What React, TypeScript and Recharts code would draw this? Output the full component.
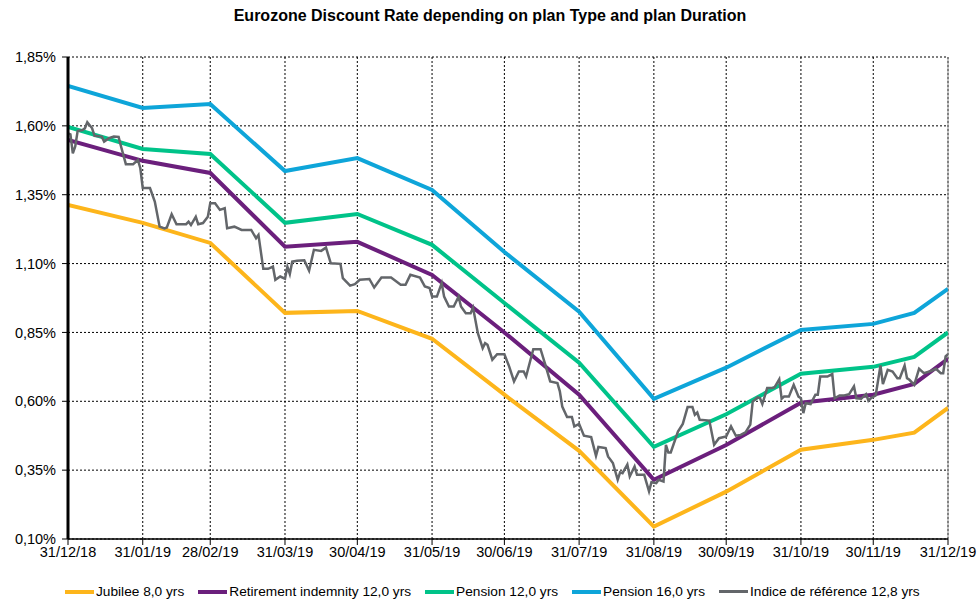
import { LineChart, Line, XAxis, YAxis, CartesianGrid, ReferenceLine } from "recharts"

// plan curves, month ends (plus one mid-December point)
const planDates = [
  "31/12/18", "31/01/19", "28/02/19", "31/03/19", "30/04/19", "31/05/19", "30/06/19",
  "31/07/19", "31/08/19", "30/09/19", "31/10/19", "30/11/19", "17/12/19", "31/12/19",
]
const jubilee = [1.313, 1.248, 1.175, 0.921, 0.928, 0.827, 0.624, 0.42, 0.145, 0.272, 0.424, 0.46, 0.486, 0.576]
const retirement = [1.549, 1.473, 1.429, 1.161, 1.179, 1.059, 0.85, 0.624, 0.315, 0.441, 0.595, 0.624, 0.663, 0.754]
const pension12 = [1.596, 1.516, 1.498, 1.248, 1.28, 1.168, 0.957, 0.74, 0.435, 0.553, 0.7, 0.725, 0.761, 0.85]
const pension16 = [1.745, 1.665, 1.679, 1.436, 1.483, 1.367, 1.142, 0.925, 0.609, 0.722, 0.859, 0.881, 0.921, 1.008]

// reference index
const indexDates = [
  "31/12/18", "01/01/19", "02/01/19", "03/01/19", "04/01/19", "06/01/19", "07/01/19", "08/01/19", "10/01/19", "11/01/19",
  "14/01/19", "15/01/19", "17/01/19", "19/01/19", "21/01/19", "22/01/19", "24/01/19", "27/01/19", "29/01/19", "30/01/19",
  "31/01/19", "03/02/19", "05/02/19", "07/02/19", "09/02/19", "10/02/19", "12/02/19", "14/02/19", "18/02/19", "19/02/19",
  "20/02/19", "22/02/19", "23/02/19", "25/02/19", "27/02/19", "28/02/19", "02/03/19", "04/03/19", "06/03/19", "07/03/19",
  "10/03/19", "13/03/19", "17/03/19", "19/03/19", "20/03/19", "22/03/19", "24/03/19", "26/03/19", "27/03/19", "29/03/19",
  "31/03/19", "01/04/19", "02/04/19", "03/04/19", "05/04/19", "08/04/19", "10/04/19", "12/04/19", "15/04/19", "17/04/19",
  "19/04/19", "23/04/19", "24/04/19", "27/04/19", "29/04/19", "01/05/19", "05/05/19", "07/05/19", "10/05/19", "14/05/19",
  "18/05/19", "20/05/19", "22/05/19", "26/05/19", "28/05/19", "30/05/19", "31/05/19", "02/06/19", "04/06/19", "05/06/19",
  "07/06/19", "09/06/19", "11/06/19", "12/06/19", "14/06/19", "16/06/19", "17/06/19", "19/06/19", "21/06/19", "22/06/19",
  "23/06/19", "25/06/19", "27/06/19", "30/06/19", "02/07/19", "04/07/19", "06/07/19", "08/07/19", "09/07/19", "12/07/19",
  "15/07/19", "17/07/19", "19/07/19", "22/07/19", "23/07/19", "24/07/19", "26/07/19", "28/07/19", "29/07/19", "31/07/19",
  "02/08/19", "05/08/19", "07/08/19", "08/08/19", "11/08/19", "12/08/19", "14/08/19", "16/08/19", "17/08/19", "18/08/19",
  "20/08/19", "21/08/19", "23/08/19", "24/08/19", "27/08/19", "28/08/19", "29/08/19", "30/08/19", "01/09/19", "02/09/19",
  "04/09/19", "05/09/19", "06/09/19", "07/09/19", "10/09/19", "12/09/19", "14/09/19", "16/09/19", "17/09/19", "18/09/19",
  "19/09/19", "23/09/19", "25/09/19", "27/09/19", "30/09/19", "02/10/19", "04/10/19", "06/10/19", "08/10/19", "10/10/19",
  "11/10/19", "13/10/19", "14/10/19", "15/10/19", "17/10/19", "19/10/19", "20/10/19", "22/10/19", "23/10/19", "24/10/19",
  "26/10/19", "28/10/19", "30/10/19", "31/10/19", "01/11/19", "02/11/19", "04/11/19", "06/11/19", "07/11/19", "08/11/19",
  "11/11/19", "13/11/19", "14/11/19", "16/11/19", "18/11/19", "20/11/19", "22/11/19", "23/11/19", "25/11/19", "27/11/19",
  "28/11/19", "29/11/19", "01/12/19", "03/12/19", "04/12/19", "06/12/19", "08/12/19", "10/12/19", "11/12/19", "13/12/19",
  "14/12/19", "15/12/19", "17/12/19", "19/12/19", "21/12/19", "24/12/19", "26/12/19", "28/12/19", "29/12/19", "30/12/19",
  "31/12/19",
]
const indexValues = [
  1.573, 1.569, 1.5, 1.525, 1.581, 1.585, 1.591, 1.613, 1.591, 1.564,
  1.561, 1.543, 1.555, 1.561, 1.56, 1.525, 1.461, 1.461, 1.476, 1.446,
  1.374, 1.374, 1.325, 1.234, 1.228, 1.231, 1.279, 1.243, 1.243, 1.252,
  1.24, 1.27, 1.243, 1.247, 1.27, 1.319, 1.319, 1.295, 1.301, 1.228,
  1.234, 1.222, 1.222, 1.192, 1.204, 1.081, 1.081, 1.089, 1.041, 1.053,
  1.045, 1.089, 1.062, 1.107, 1.11, 1.112, 1.074, 1.15, 1.146, 1.158,
  1.101, 1.099, 1.047, 1.02, 1.025, 1.041, 1.044, 1.013, 1.049, 1.049,
  1.023, 1.023, 1.059, 1.049, 1.017, 1.011, 0.98, 0.98, 1.029, 0.98,
  0.944, 0.944, 0.98, 0.944, 0.92, 0.92, 0.94, 0.847, 0.793, 0.811,
  0.805, 0.751, 0.771, 0.771, 0.726, 0.672, 0.708, 0.708, 0.69, 0.789,
  0.789, 0.732, 0.672, 0.666, 0.636, 0.581, 0.543, 0.543, 0.509, 0.518,
  0.475, 0.47, 0.402, 0.434, 0.43, 0.4, 0.376, 0.315, 0.342, 0.339,
  0.37, 0.327, 0.363, 0.333, 0.333, 0.303, 0.273, 0.306, 0.303, 0.315,
  0.309, 0.442, 0.414, 0.414, 0.49, 0.518, 0.579, 0.579, 0.551, 0.559,
  0.533, 0.53, 0.442, 0.466, 0.472, 0.509, 0.475, 0.478, 0.487, 0.515,
  0.599, 0.614, 0.612, 0.59, 0.648, 0.648, 0.65, 0.68, 0.609, 0.617,
  0.617, 0.66, 0.617, 0.611, 0.557, 0.593, 0.59, 0.624, 0.624, 0.69,
  0.69, 0.699, 0.611, 0.621, 0.621, 0.626, 0.654, 0.611, 0.609, 0.626,
  0.602, 0.611, 0.621, 0.73, 0.662, 0.714, 0.708, 0.684, 0.684, 0.73,
  0.684, 0.678, 0.66, 0.718, 0.702, 0.71, 0.718, 0.702, 0.702, 0.763,
  0.771,
]

const xTickLabels = [
  "31/12/18", "31/01/19", "28/02/19", "31/03/19", "30/04/19", "31/05/19", "30/06/19",
  "31/07/19", "31/08/19", "30/09/19", "31/10/19", "30/11/19", "31/12/19",
]
const yTicks = [0.1, 0.35, 0.6, 0.85, 1.1, 1.35, 1.6, 1.85]

const COLORS = {
  jubilee: "#FDB51B",
  retirement: "#6B1F7C",
  pension12: "#00C389",
  pension16: "#0EA5D9",
  index: "#63666A",
}

const legendItems = [
  { name: "Jubilee 8,0 yrs", color: COLORS.jubilee, h: 4 },
  { name: "Retirement indemnity 12,0 yrs", color: COLORS.retirement, h: 4 },
  { name: "Pension 12,0 yrs", color: COLORS.pension12, h: 4 },
  { name: "Pension 16,0 yrs", color: COLORS.pension16, h: 4 },
  { name: "Indice de référence 12,8 yrs", color: COLORS.index, h: 3 },
]

const toTime = (s: string) => {
  const [d, m, y] = s.split("/").map(Number)
  return Date.UTC(2000 + y, m - 1, d)
}
const fmtDate = (t: number) => {
  const d = new Date(t)
  const p = (n: number) => String(n).padStart(2, "0")
  return `${p(d.getUTCDate())}/${p(d.getUTCMonth() + 1)}/${p(d.getUTCFullYear() % 100)}`
}
const fmtPct = (v: number) => v.toFixed(2).replace(".", ",") + "%"

const planData = planDates.map((d, i) => ({
  t: toTime(d),
  jubilee: jubilee[i],
  retirement: retirement[i],
  pension12: pension12[i],
  pension16: pension16[i],
}))
const indexData = indexDates.map((d, i) => ({ t: toTime(d), index: indexValues[i] }))
const xTicks = xTickLabels.map(toTime)

const FONT = "'Liberation Sans', Arial, sans-serif"

export default function App() {
  return (
    <div style={{ position: "absolute", left: 0, top: 0, width: 980, height: 602, background: "#fff", fontFamily: FONT }}>
      <div
        style={{
          position: "absolute",
          top: 7,
          left: 0,
          width: 980,
          textAlign: "center",
          fontWeight: "bold",
          fontSize: 16,
          color: "#000",
        }}
      >
        Eurozone Discount Rate depending on plan Type and plan Duration
      </div>
      <LineChart width={980} height={602} margin={{ top: 57, right: 32, bottom: 33, left: 8 }}>
        <CartesianGrid stroke="#000" strokeDasharray="2 2" strokeWidth={1} />
        <XAxis
          dataKey="t"
          type="number"
          domain={[xTicks[0], xTicks[xTicks.length - 1]]}
          ticks={xTicks}
          tickFormatter={fmtDate}
          allowDataOverflow
          height={30}
          tickSize={6}
          tickMargin={2}
          axisLine={{ stroke: "#000", strokeWidth: 1.5 }}
          tickLine={{ stroke: "#000" }}
          tick={{ fill: "#000", fontSize: 14.5, fontFamily: FONT }}
          interval={0}
        />
        <YAxis
          type="number"
          domain={[0.1, 1.85]}
          ticks={yTicks}
          tickFormatter={fmtPct}
          allowDataOverflow
          width={60}
          tickSize={6}
          tickMargin={6}
          axisLine={{ stroke: "#000", strokeWidth: 3 }}
          tickLine={{ stroke: "#000" }}
          tick={{ fill: "#000", fontSize: 14.5, fontFamily: FONT }}
          interval={0}
        />
        <ReferenceLine x={xTicks[xTicks.length - 1]} stroke="#888" strokeWidth={1} />
        <Line data={planData} dataKey="jubilee" stroke={COLORS.jubilee} strokeWidth={4} dot={false} activeDot={false} isAnimationActive={false} />
        <Line data={planData} dataKey="retirement" stroke={COLORS.retirement} strokeWidth={4} dot={false} activeDot={false} isAnimationActive={false} />
        <Line data={planData} dataKey="pension12" stroke={COLORS.pension12} strokeWidth={4} dot={false} activeDot={false} isAnimationActive={false} />
        <Line data={planData} dataKey="pension16" stroke={COLORS.pension16} strokeWidth={4} dot={false} activeDot={false} isAnimationActive={false} />
        <Line data={indexData} dataKey="index" stroke={COLORS.index} strokeWidth={2.5} dot={false} activeDot={false} isAnimationActive={false} />
      </LineChart>
      <div
        style={{
          position: "absolute",
          top: 584,
          left: 65,
          display: "flex",
          alignItems: "center",
          fontSize: 13.7,
          color: "#000",
          whiteSpace: "nowrap",
        }}
      >
        {legendItems.map((it) => (
          <div key={it.name} style={{ display: "flex", alignItems: "center", marginRight: 14 }}>
            <span style={{ display: "inline-block", width: 29, height: it.h, background: it.color, marginRight: 2 }} />
            <span>{it.name}</span>
          </div>
        ))}
      </div>
    </div>
  )
}
